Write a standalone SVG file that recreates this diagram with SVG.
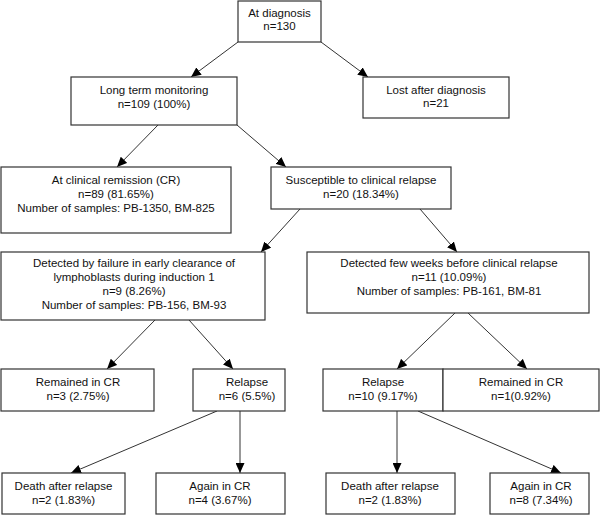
<svg xmlns="http://www.w3.org/2000/svg" width="600" height="522" viewBox="0 0 600 522">
<defs>
<style>
.box{fill:#fff;stroke:#333;stroke-width:1.2}
text{font-family:"Liberation Sans",Arial,sans-serif;font-size:11.5px;fill:#111;text-anchor:middle}
.edge{stroke:#333;stroke-width:1;fill:none;marker-end:url(#ah)}
</style>
<marker id="ah" markerUnits="userSpaceOnUse" markerWidth="10" markerHeight="9" viewBox="0 0 10 9" refX="10" refY="4.5" orient="auto">
<path d="M0,0 L10,4.5 L0,9 z" fill="#000"/>
</marker>
</defs>
<rect width="600" height="522" fill="#fff"/>
<g id="connectors">
<line class="edge" x1="238" y1="42" x2="191" y2="77"/>
<line class="edge" x1="321" y1="42" x2="368" y2="77"/>
<line class="edge" x1="158" y1="125" x2="117" y2="167"/>
<line class="edge" x1="237" y1="125" x2="286" y2="167"/>
<line class="edge" x1="300" y1="209" x2="261" y2="252"/>
<line class="edge" x1="420" y1="209" x2="457" y2="252"/>
<line class="edge" x1="155" y1="320" x2="107" y2="369"/>
<line class="edge" x1="189" y1="320" x2="233" y2="369"/>
<line class="edge" x1="455" y1="313" x2="397" y2="369"/>
<line class="edge" x1="468" y1="313" x2="527" y2="369"/>
<line class="edge" x1="217" y1="411" x2="71" y2="473"/>
<line class="edge" x1="240" y1="411" x2="240" y2="473"/>
<line class="edge" x1="397" y1="411" x2="397" y2="473"/>
<line class="edge" x1="418" y1="411" x2="561" y2="473"/>
</g>
<g id="n1"><rect class="box" x="238" y="1" width="83" height="41"/>
<text x="279.5" y="16.5">At diagnosis</text><text x="279.5" y="30">n=130</text></g>
<g id="n2"><rect class="box" x="71" y="77" width="166" height="48"/>
<text x="154" y="94">Long term monitoring</text><text x="154" y="107.5">n=109 (100%)</text></g>
<g id="n3"><rect class="box" x="363" y="77" width="146" height="41"/>
<text x="436" y="93.5">Lost after diagnosis</text><text x="436" y="107">n=21</text></g>
<g id="n4"><rect class="box" x="1" y="167" width="230" height="66"/>
<text x="116" y="183.5">At clinical remission (CR)</text><text x="116" y="197.5">n=89 (81.65%)</text><text x="116" y="211.5">Number of samples: PB-1350, BM-825</text></g>
<g id="n5"><rect class="box" x="271" y="167" width="180" height="42"/>
<text x="361" y="183.5">Susceptible to clinical relapse</text><text x="361" y="197.5">n=20 (18.34%)</text></g>
<g id="n6"><rect class="box" x="1" y="252" width="264" height="68"/>
<text x="134" y="267">Detected by failure in early clearance of</text><text x="134" y="281">lymphoblasts during induction 1</text><text x="134" y="295">n=9 (8.26%)</text><text x="134" y="309">Number of samples: PB-156, BM-93</text></g>
<g id="n7"><rect class="box" x="307" y="252" width="282" height="61"/>
<text x="449" y="267">Detected few weeks before clinical relapse</text><text x="449" y="281">n=11 (10.09%)</text><text x="449" y="295">Number of samples: PB-161, BM-81</text></g>
<g id="n8"><rect class="box" x="1" y="369" width="153" height="42"/>
<text x="78" y="385.5">Remained in CR</text><text x="78" y="399.5">n=3 (2.75%)</text></g>
<g id="n9"><rect class="box" x="193" y="369" width="92" height="42"/>
<text x="247" y="385.5">Relapse</text><text x="247" y="399.5">n=6 (5.5%)</text></g>
<g id="n10"><rect class="box" x="323" y="369" width="120" height="42"/>
<text x="383" y="385.5">Relapse</text><text x="383" y="399.5">n=10 (9.17%)</text></g>
<g id="n11"><rect class="box" x="443" y="369" width="156" height="42"/>
<text x="521" y="385.5">Remained in CR</text><text x="521" y="399.5">n=1(0.92%)</text></g>
<g id="n12"><rect class="box" x="2" y="473" width="123" height="41"/>
<text x="63.5" y="490">Death after relapse</text><text x="63.5" y="504">n=2 (1.83%)</text></g>
<g id="n13"><rect class="box" x="156" y="473" width="129" height="41"/>
<text x="220" y="490">Again in CR</text><text x="220" y="504">n=4 (3.67%)</text></g>
<g id="n14"><rect class="box" x="326" y="473" width="129" height="41"/>
<text x="390" y="490">Death after relapse</text><text x="390" y="504">n=2 (1.83%)</text></g>
<g id="n15"><rect class="box" x="490" y="473" width="99" height="41"/>
<text x="541" y="490">Again in CR</text><text x="541" y="504">n=8 (7.34%)</text></g>
</svg>
